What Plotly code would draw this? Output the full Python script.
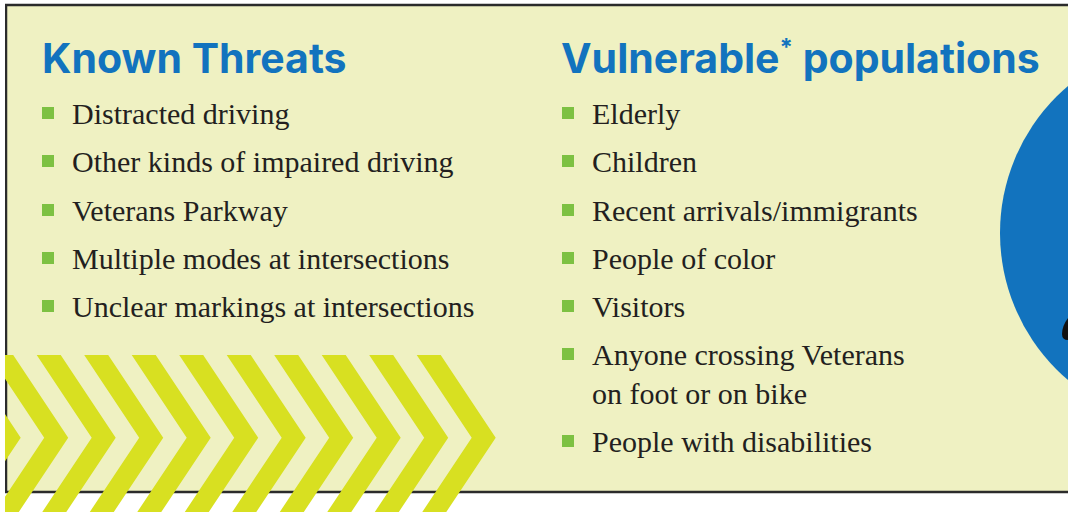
import plotly.graph_objects as go

# ---- content ----
left_title = "Known Threats"
right_title = "Vulnerable<sup><span style='font-size:24px'>*</span></sup> populations"
left_items = [
    "Distracted driving",
    "Other kinds of impaired driving",
    "Veterans Parkway",
    "Multiple modes at intersections",
    "Unclear markings at intersections",
]
right_items = [
    "Elderly",
    "Children",
    "Recent arrivals/immigrants",
    "People of color",
    "Visitors",
    "Anyone crossing Veterans\non foot or on bike",
    "People with disabilities",
]
left_item_y = [113, 161, 210, 258, 306]
right_item_y = [113, 161, 210, 258, 306, 354, 441]
n_chevrons = 11

# ---- styles ----
W, H = 1068, 512
BG = "#EFF1C2"
BLUE = "#1273BE"
GREEN = "#7DC142"
CHEV = "#D8E021"
TXT = "#231F20"
SERIF = "Liberation Serif, DejaVu Serif, serif"
SANS = "Inter, Roboto, sans-serif"

shapes = []
annotations = []

# panel background
shapes.append(dict(type="rect", x0=5, x1=W + 5, y0=5, y1=492,
                   fillcolor=BG, line=dict(width=0), layer="below"))
# blue circle on the right
shapes.append(dict(type="circle", x0=1000, x1=1386, y0=40, y1=426,
                   fillcolor=BLUE, line=dict(width=0), layer="below"))
# small black icon fragment
shapes.append(dict(type="path", path="M 1062 334 Q 1062 326 1068 318 L 1068 340 Q 1062 340 1062 334 Z",
                   fillcolor="#111111", line=dict(width=0), layer="below"))
# border lines
shapes.append(dict(type="line", x0=5, x1=W + 5, y0=5, y1=5, line=dict(color="#2B2B2B", width=2.5), layer="below"))
shapes.append(dict(type="line", x0=6, x1=6, y0=4, y1=493, line=dict(color="#2B2B2B", width=2.5), layer="below"))
shapes.append(dict(type="line", x0=5, x1=W + 5, y0=492, y1=492, line=dict(color="#2B2B2B", width=2.5), layer="below"))

# chevrons
top, mid, bot = 355, 437.7, 520.4
for k in range(n_chevrons):
    x0 = 416.7 - 47.5 * k
    p = (f"M {x0} {top} L {x0+24} {top} L {x0+79} {mid} L {x0+24} {bot} "
         f"L {x0} {bot} L {x0+55} {mid} Z")
    shapes.append(dict(type="path", path=p, fillcolor=CHEV, line=dict(width=0), layer="below"))
# white mask at the left margin
shapes.append(dict(type="rect", x0=-10, x1=5, y0=-10, y1=H + 10,
                   fillcolor="white", line=dict(width=0), layer="below"))

# titles
annotations.append(dict(x=40, y=58, text=left_title, showarrow=False, xanchor="left", yanchor="middle",
                        font=dict(family=SANS, size=41, color=BLUE, weight=700)))
annotations.append(dict(x=559, y=58, text=right_title, showarrow=False, xanchor="left", yanchor="middle",
                        font=dict(family=SANS, size=41, color=BLUE, weight=700)))


def add_items(items, ys, bx, tx):
    for item, y in zip(items, ys):
        shapes.append(dict(type="rect", x0=bx, x1=bx + 12, y0=y - 6, y1=y + 6,
                           fillcolor=GREEN, line=dict(width=0)))
        for j, line in enumerate(item.split("\n")):
            annotations.append(dict(x=tx, y=y + 39 * j, text=line, showarrow=False,
                                    xanchor="left", yanchor="middle",
                                    font=dict(family=SERIF, size=30, color=TXT)))


add_items(left_items, left_item_y, 42, 70)
add_items(right_items, right_item_y, 562, 590)

fig = go.Figure()
fig.update_layout(
    width=W, height=H, margin=dict(l=0, r=0, t=0, b=0),
    paper_bgcolor="white", plot_bgcolor="white",
    xaxis=dict(range=[0, W], visible=False, fixedrange=True),
    yaxis=dict(range=[H, 0], visible=False, fixedrange=True),
    shapes=shapes, annotations=annotations, showlegend=False,
)
fig.write_html("out.html", config={"displayModeBar": False},
               post_script="document.body.style.margin='0';document.body.style.overflow='hidden';")
